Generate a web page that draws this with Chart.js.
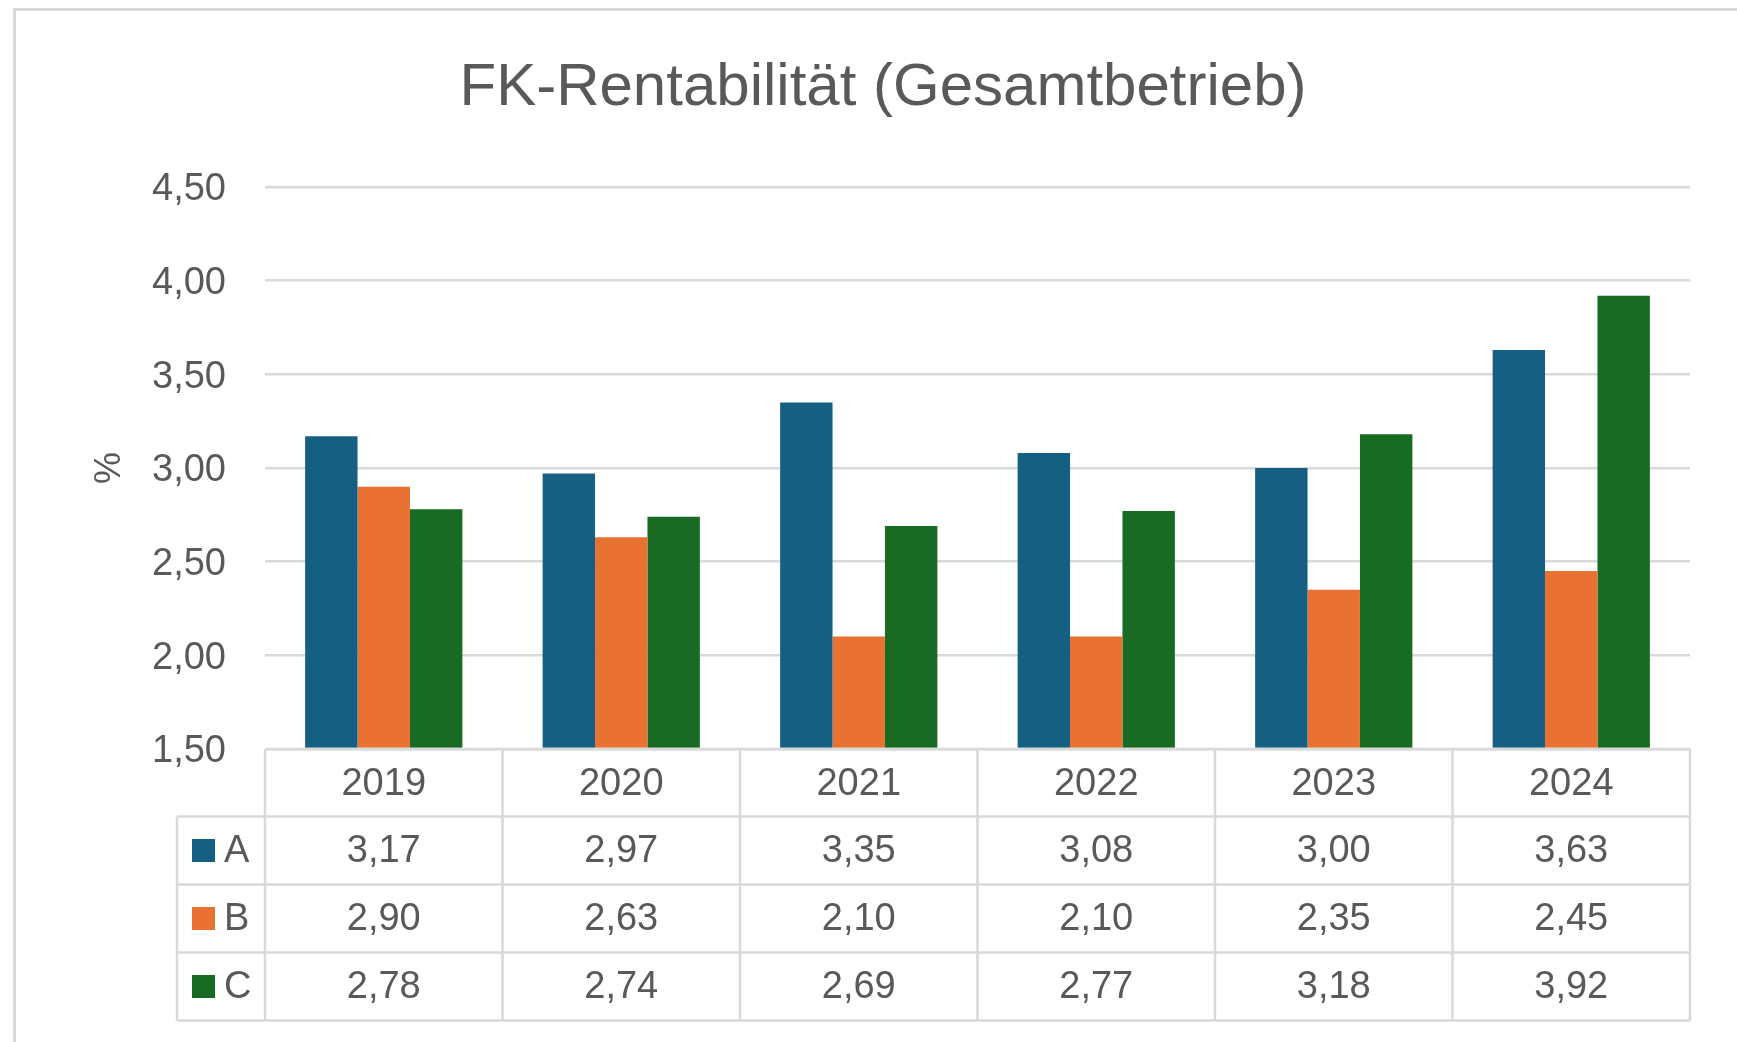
<!DOCTYPE html>
<html>
<head>
<meta charset="utf-8">
<script src="https://cdn.jsdelivr.net/npm/chart.js@4"></script>
<style>
  html, body { margin: 0; padding: 0; background: #fff; overflow: hidden; }
  #wrap { position: relative; width: 1737px; height: 1042px; }
  #frame { position: absolute; left: 13px; top: 8px; width: 1800px; height: 1100px;
           border-top: 3px solid #d9d9d9; border-left: 3px solid #d9d9d9; }
  canvas { position: absolute; left: 0; top: 0; }
</style>
</head>
<body>
<div id="wrap">
  <div id="frame"></div>
  <canvas id="chart" width="1737" height="1042"></canvas>
</div>
<script>
const years = ['2019', '2020', '2021', '2022', '2023', '2024'];
const seriesNames = ['A', 'B', 'C'];
const valuesA = [3.17, 2.97, 3.35, 3.08, 3.00, 3.63];
const valuesB = [2.90, 2.63, 2.10, 2.10, 2.35, 2.45];
const valuesC = [2.78, 2.74, 2.69, 2.77, 3.18, 3.92];
const seriesColors = ['#156082', '#E97132', '#196B24'];
const yMin = 1.5, yMax = 4.5, yStep = 0.5;

const textColor = '#595959';
const lineColor = '#d9d9d9';
const fontFamily = "'Liberation Sans', Arial, sans-serif";

const fmt = v => Number(v).toFixed(2).replace('.', ',');

// layout numbers (px)
const HEAD_H = 67.5;   // year row height
const ROW_H = 68;      // series rows
const LEGEND_W = 88;   // left legend column

const dataTable = {
    id: 'dataTable',
    afterDraw(chart) {
        const { ctx, chartArea: area, scales: { x } } = chart;
        const catW = x.width / years.length;
        const top = area.bottom;
        const headBottom = top + HEAD_H;
        const bottom = headBottom + ROW_H * seriesNames.length;
        const legLeft = area.left - LEGEND_W;
        const rows = [valuesA, valuesB, valuesC];

        ctx.save();
        ctx.strokeStyle = lineColor;
        ctx.lineWidth = 2.5;
        ctx.beginPath();
        // header top
        ctx.moveTo(area.left, top); ctx.lineTo(area.right, top);
        // row lines
        for (let r = 0; r <= seriesNames.length; r++) {
            const y = headBottom + r * ROW_H;
            ctx.moveTo(legLeft, y); ctx.lineTo(area.right, y);
        }
        // column lines
        for (let i = 0; i <= years.length; i++) {
            const cx = i < years.length ? x.getPixelForValue(i) - catW / 2 : x.getPixelForValue(years.length - 1) + catW / 2;
            ctx.moveTo(cx, top); ctx.lineTo(cx, bottom);
        }
        ctx.moveTo(legLeft, headBottom); ctx.lineTo(legLeft, bottom);
        ctx.stroke();

        ctx.font = `38px ${fontFamily}`;
        ctx.fillStyle = textColor;
        ctx.textBaseline = 'middle';
        rows.forEach((vals, r) => {
            const cy = headBottom + r * ROW_H + ROW_H / 2;
            // legend key
            ctx.fillStyle = seriesColors[r];
            ctx.fillRect(legLeft + 15, cy - 11.5, 23, 23);
            ctx.fillStyle = textColor;
            ctx.textAlign = 'left';
            ctx.fillText(seriesNames[r], legLeft + 47, cy + 1);
            ctx.textAlign = 'center';
            vals.forEach((v, i) => ctx.fillText(fmt(v), x.getPixelForValue(i), cy + 1));
        });
        ctx.restore();
    }
};

new Chart(document.getElementById('chart'), {
    type: 'bar',
    data: {
        labels: years,
        datasets: [
            { label: seriesNames[0], data: valuesA, backgroundColor: seriesColors[0], base: yMin },
            { label: seriesNames[1], data: valuesB, backgroundColor: seriesColors[1], base: yMin },
            { label: seriesNames[2], data: valuesC, backgroundColor: seriesColors[2], base: yMin }
        ]
    },
    options: {
        responsive: false,
        animation: false,
        layout: { padding: { left: 76, right: 47, top: 0, bottom: 1042 - 749 - HEAD_H } },
        datasets: { bar: { categoryPercentage: 0.662, barPercentage: 1.0, borderWidth: 0 } },
        plugins: {
            legend: { display: false },
            tooltip: { enabled: false },
            title: {
                display: true,
                text: 'FK-Rentabilität (Gesamtbetrieb)',
                color: textColor,
                font: { family: fontFamily, size: 60, weight: 'normal' },
                padding: { top: 52, bottom: 63 }
            }
        },
        scales: {
            x: {
                grid: { display: false, drawTicks: false },
                border: { display: false },
                ticks: { color: textColor, font: { family: fontFamily, size: 38 }, padding: 13 },
                afterFit: s => { s.height = HEAD_H; }
            },
            y: {
                min: yMin, max: yMax,
                grid: { color: lineColor, lineWidth: 2.5, drawTicks: false },
                border: { display: false },
                ticks: {
                    stepSize: yStep,
                    color: textColor,
                    font: { family: fontFamily, size: 38 },
                    padding: 39,
                    labelOffset: 3,
                    callback: v => fmt(v)
                },
                title: {
                    display: true,
                    text: '%',
                    color: textColor,
                    font: { family: fontFamily, size: 36 },
                    padding: { top: 12, bottom: 0 }
                },
                afterFit: s => { s.width = 265 - 76; }
            }
        }
    },
    plugins: [dataTable]
});
</script>
</body>
</html>
